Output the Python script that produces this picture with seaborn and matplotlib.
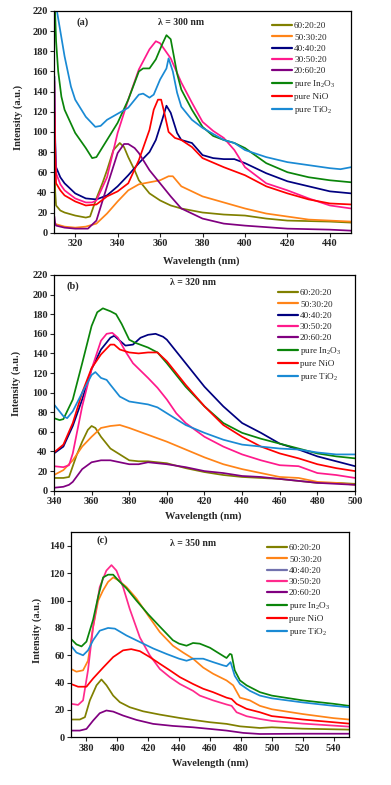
import pandas as pd
import matplotlib
matplotlib.use("Agg")
import matplotlib.pyplot as plt
from matplotlib.lines import Line2D
import seaborn as sns

LABELS = ["60:20:20", "50:30:20", "40:40:20", "30:50:20", "20:60:20",
          "pure In$\\mathregular{_2}$O$\\mathregular{_3}$", "pure NiO",
          "pure TiO$\\mathregular{_2}$"]

# ---- panel (a): excitation 300 nm ----
A_6020 = [(310.2, 78), (310.6, 40), (311, 27), (313, 22), (315, 20), (320, 17), (325, 15), (327, 16),
          (330, 34), (333, 50), (335, 62), (338, 82), (341, 89), (343, 85), (345, 75), (348, 62),
          (350, 52), (355, 39), (360, 32), (365, 27), (370, 24), (375, 22), (380, 20), (390, 18),
          (400, 17), (410, 14), (420, 12), (430, 11.5), (440, 11), (450, 10)]
A_5030 = [(310, 9), (315, 6), (320, 5), (325, 6), (330, 9), (335, 19), (340, 31), (345, 42), (350, 48),
          (355, 50), (360, 52), (364, 56), (366, 56), (368, 51), (370, 46), (375, 41), (380, 36),
          (390, 30), (400, 24), (410, 19), (420, 16), (430, 13), (440, 12), (450, 11)]
A_4040 = [(310.2, 155), (310.6, 90), (311, 65), (313, 55), (315, 49), (320, 39), (325, 34), (330, 33),
          (335, 37), (340, 46), (345, 57), (350, 69), (355, 80), (358, 92), (361, 112), (363, 126),
          (365, 119), (368, 99), (370, 92), (375, 89), (380, 77), (385, 74), (390, 73), (395, 73),
          (400, 69), (410, 59), (420, 51), (430, 46), (440, 41), (450, 39)]
A_3050 = [(310.2, 150), (310.6, 85), (311, 59), (313, 48), (315, 42), (320, 34), (325, 30), (328, 30),
          (330, 32), (335, 55), (340, 99), (345, 132), (350, 162), (355, 182), (358, 190), (360, 188),
          (365, 173), (370, 149), (375, 129), (380, 110), (385, 101), (390, 94), (395, 82), (400, 65),
          (410, 49), (420, 42), (430, 34), (440, 27), (450, 24)]
A_2060 = [(310.2, 16), (310.6, 9), (311, 7), (315, 5), (320, 4), (326, 4), (330, 12), (335, 46),
          (340, 79), (343, 88), (345, 88), (348, 84), (350, 79), (355, 62), (360, 49), (365, 36),
          (370, 24), (380, 14), (390, 9), (400, 7), (410, 5.5), (420, 4), (440, 3), (450, 2)]
A_IN2O3 = [(310.2, 240), (311, 190), (312, 160), (313.5, 135), (315, 122), (320, 99), (325, 84),
           (328, 74), (330, 75), (335, 92), (340, 109), (345, 132), (350, 160), (352, 163), (355, 163),
           (358, 172), (361, 187), (363, 196), (365, 192), (368, 158), (370, 142), (375, 122),
           (380, 105), (385, 96), (390, 92), (395, 89), (400, 84), (410, 69), (420, 60), (430, 55),
           (440, 52), (450, 50)]
A_NIO = [(310.2, 120), (310.6, 70), (311, 49), (313, 42), (315, 37), (320, 31), (325, 27), (330, 28),
         (335, 36), (340, 41), (345, 49), (350, 72), (355, 102), (357, 122), (359, 132), (360.5, 132),
         (362, 119), (364, 100), (367, 94), (370, 92), (375, 85), (380, 74), (390, 65), (400, 57),
         (410, 46), (420, 39), (430, 33), (440, 29), (450, 28)]
A_TIO2 = [(311, 240), (311.4, 220), (313, 200), (315, 175), (318, 145), (320, 132), (325, 115),
          (329.5, 105), (332, 106), (335, 112), (340, 118), (345, 124), (350, 137), (352, 138),
          (355, 134), (357, 137), (360, 152), (363, 163), (364, 173), (366, 160), (368, 139),
          (370, 125), (375, 112), (380, 104), (390, 92), (395, 89), (400, 82), (410, 75), (420, 70),
          (430, 67), (440, 64), (445, 63), (450, 65)]

# ---- panel (b): excitation 320 nm ----
B_6020 = [(340, 13), (345, 13), (348, 14), (350, 25), (352, 36), (355, 50), (358, 62), (360, 66),
          (362, 64), (365, 55), (370, 43), (375, 37), (380, 31), (385, 30), (390, 30), (400, 28),
          (410, 23), (420, 19), (430, 16), (440, 14), (450, 13), (460, 12), (470, 10), (480, 8),
          (490, 8), (500, 7)]
B_5030 = [(340, 16), (345, 21), (350, 31), (355, 45), (360, 55), (365, 64), (370, 66), (375, 67),
          (380, 64), (390, 57), (400, 50), (410, 42), (420, 34), (430, 27), (440, 22), (450, 18),
          (460, 14), (470, 13), (480, 9), (490, 8), (500, 6)]
B_4040 = [(340, 38), (345, 45), (350, 66), (355, 93), (360, 124), (365, 144), (370, 156), (372, 158),
          (375, 153), (378, 148), (382, 149), (386, 156), (390, 159), (394, 160), (398, 157),
          (400, 154), (410, 130), (420, 106), (430, 86), (440, 69), (450, 59), (460, 48), (470, 42),
          (480, 35), (490, 30), (500, 25)]
B_3050 = [(340, 25), (345, 24), (348, 26), (350, 38), (355, 86), (360, 124), (365, 153), (368, 160),
          (371, 161), (374, 156), (378, 142), (382, 130), (390, 115), (395, 105), (400, 93),
          (405, 79), (410, 69), (420, 55), (430, 45), (440, 37), (450, 31), (460, 26), (470, 25),
          (480, 18), (490, 16), (500, 13)]
B_2060 = [(340, 3), (345, 4), (348, 6), (350, 9), (355, 22), (360, 29), (365, 31), (370, 31),
          (375, 29), (380, 27), (385, 27), (390, 29), (400, 27), (410, 24), (420, 20), (430, 18),
          (440, 15), (450, 14), (460, 12), (470, 10), (480, 8), (490, 7), (500, 6)]
B_IN2O3 = [(340, 74), (343, 72), (345, 73), (350, 93), (355, 130), (360, 168), (363, 182), (366, 186),
           (370, 183), (373, 180), (376, 170), (380, 154), (383, 151), (390, 146), (395, 141),
           (400, 130), (410, 106), (420, 86), (430, 69), (440, 59), (450, 53), (460, 48), (470, 43),
           (480, 38), (490, 35), (500, 33)]
B_NIO = [(340, 39), (345, 47), (350, 69), (355, 100), (360, 125), (365, 139), (370, 149), (372, 149),
         (375, 144), (380, 141), (385, 140), (390, 141), (395, 141), (400, 132), (410, 108),
         (420, 86), (430, 67), (440, 55), (450, 45), (460, 38), (470, 33), (480, 27), (490, 23),
         (500, 20)]
B_TIO2 = [(340, 88), (345, 76), (347, 74), (350, 81), (355, 100), (360, 118), (362, 121), (365, 115),
          (368, 113), (370, 108), (375, 96), (380, 91), (390, 88), (395, 85), (400, 79), (410, 67),
          (420, 59), (430, 52), (440, 47), (450, 45), (460, 43), (470, 42), (480, 39), (490, 37),
          (500, 37)]

# ---- panel (c): excitation 350 nm (no 40:40:20 trace shown) ----
C_6020 = [(370, 13), (375.7, 13), (379, 14.7), (382.2, 27), (386.5, 38), (389.7, 42.3), (393, 38),
          (397.3, 30.5), (401.6, 25.7), (408, 22), (416.7, 19), (427.5, 16.6), (440, 14.2),
          (449, 12.7), (460, 11), (470.7, 9.8), (479.4, 8), (492.3, 6.8), (500, 7.3), (520, 6.3),
          (550, 5.6)]
C_5030 = [(370, 50), (373.5, 48), (377.8, 49), (381, 56), (384.3, 80.7), (387.6, 100), (390.8, 107.6),
          (394, 113.7), (397.3, 117), (400.5, 115), (405.9, 110), (412.4, 101.5), (420, 89),
          (427.5, 77), (436, 67), (442.6, 62), (449, 57.5), (455.6, 51), (462, 46.5), (470.7, 41.6),
          (475, 38), (479.4, 29), (485.8, 27), (492.3, 23), (500, 20.5), (520, 17), (540, 14),
          (550, 13)]
C_3050 = [(370, 24.5), (374.6, 23.7), (377.8, 27), (381, 49), (384.3, 80.7), (388.6, 110),
          (392.9, 122), (396.2, 126), (399.4, 122), (403.7, 110), (408, 94), (414.6, 73), (421, 60),
          (427.5, 50), (434, 44), (440.5, 39), (449, 34), (453.4, 30.5), (462, 27), (470.7, 24),
          (474, 23), (477.2, 18.3), (483.7, 15.4), (492.3, 13.4), (500, 12), (520, 10), (550, 7.8)]
C_2060 = [(370, 4.9), (375.7, 4.9), (380, 6.1), (384.3, 12.2), (388.6, 17.6), (392.9, 19.6),
          (397.3, 18.8), (403.7, 15.9), (412.4, 12.7), (423.2, 9.8), (436, 8.3), (449, 7.3),
          (460, 6.1), (470.7, 4.9), (481.5, 3.2), (492.3, 2.4), (520, 2.6), (550, 2.6)]
C_IN2O3 = [(370, 72), (373.5, 68), (376.8, 66.5), (380, 70), (384.3, 86), (387.6, 103), (390.8, 117),
           (394, 119), (397.3, 119), (400.5, 115), (405.9, 109), (412.4, 100), (420, 90), (427.5, 81),
           (436, 71), (440, 68.5), (444.8, 67), (449, 69), (453.4, 68.5), (460, 65.5), (466.4, 61),
           (470.7, 58), (472.9, 61), (474, 60.5), (476, 49), (479.4, 41.6), (483.7, 38), (492.3, 33),
           (500, 30.5), (520, 27), (540, 24.5), (550, 23)]
C_NIO = [(370, 39), (374.6, 37), (380, 37), (384.3, 43), (390.8, 51), (397.3, 58.7), (403.7, 63.6),
         (409, 64.5), (414.6, 63), (421, 58.7), (427.5, 53.8), (434, 49), (440.5, 44), (449, 39),
         (455.6, 35.5), (462, 33), (470.7, 29), (474, 28), (477.2, 24.4), (483.7, 20.8),
         (492.3, 18.3), (500, 15.5), (520, 13), (550, 10)]
C_TIO2 = [(370, 67), (373.5, 62), (377.8, 60), (381, 63.6), (384.3, 71), (388.6, 78), (394, 80),
          (398.4, 79.5), (405.9, 74.5), (414.6, 69.7), (423.2, 65), (431.8, 61), (440, 57.5),
          (444.8, 56), (449, 57.5), (455.6, 57.5), (462, 55), (468.6, 52.6), (470.7, 52),
          (473.3, 55), (476, 45), (479.4, 39), (485.8, 34), (492.3, 30.5), (500, 28.5), (520, 25.5),
          (540, 23), (550, 22)]

COLORS_AB = ["#808000", "#ff8418", "#000080", "#ff1a8c", "#800080", "#0a850a", "#ff0000", "#1a8ad4"]
COLORS_C = ["#808000", "#ff8418", "#7272ae", "#ff2a8c", "#800080", "#0a850a", "#ff0000", "#1a8ad4"]

SERIF = "Liberation Serif"


def frame(series):
    rows = [(lab, w, v) for lab, pts in series for w, v in pts]
    return pd.DataFrame(rows, columns=["sample", "wl", "intensity"])


def panel(fig, rect, series, colors, xlim, ylim, xticks, yticks, tag, tag_xy, exc, exc_xy,
          leg_xy, ylab_xy, xlab_xy):
    ax = fig.add_axes(rect)
    df = frame(series)
    pal = dict(zip(LABELS, colors))
    sns.lineplot(data=df, x="wl", y="intensity", hue="sample", palette=pal, estimator=None,
                 legend=False, ax=ax, linewidth=1.25)
    ax.set_xlim(*xlim)
    ax.set_ylim(*ylim)
    ax.set_xticks(xticks)
    ax.set_yticks(yticks)
    for lab in ax.get_xticklabels() + ax.get_yticklabels():
        lab.set_fontweight("bold")
    ax.tick_params(direction="out", length=3, width=0.8, labelsize=7.5, pad=1.5)
    for sp in ax.spines.values():
        sp.set_linewidth(0.9)
        sp.set_color("black")
    ax.set_xlabel("Wavelength (nm)", fontsize=7.5, fontweight="bold")
    ax.set_ylabel("Intensity (a.u.)", fontsize=7.5, fontweight="bold")
    ax.xaxis.set_label_coords(*xlab_xy)
    ax.yaxis.set_label_coords(*ylab_xy)
    ax.text(*tag_xy, tag, transform=ax.transAxes, ha="center", va="center", fontsize=7.5,
            fontweight="bold")
    ax.text(*exc_xy, exc, transform=ax.transAxes, ha="center", va="center", fontsize=7,
            fontweight="bold")
    handles = [Line2D([], [], color=c, lw=1.6) for c in colors]
    ax.legend(handles, LABELS, loc="upper left", bbox_to_anchor=leg_xy, frameon=False,
              fontsize=6.6, handlelength=2.2, handletextpad=0.2, labelspacing=0.3,
              borderpad=0, borderaxespad=0)
    return ax


sns.set_style("ticks")
plt.rcParams["font.family"] = [SERIF, "DejaVu Serif"]
plt.rcParams["mathtext.fontset"] = "custom"
plt.rcParams["mathtext.rm"] = SERIF

fig = plt.figure(figsize=(3.91, 7.85), dpi=100)

panel(fig, [0.138, 0.7036, 0.760, 0.2824],
      [(LABELS[0], A_6020), (LABELS[1], A_5030), (LABELS[2], A_4040), (LABELS[3], A_3050),
       (LABELS[4], A_2060), (LABELS[5], A_IN2O3), (LABELS[6], A_NIO), (LABELS[7], A_TIO2)],
      COLORS_AB, (310, 450), (0, 220), range(320, 441, 20), range(0, 221, 20),
      "(a)", (0.098, 0.95), "λ = 300 nm", (0.428, 0.95), (0.734, 0.95),
      (-0.104, 0.52), (0.497, -0.108))

panel(fig, [0.138, 0.3749, 0.770, 0.2748],
      [(LABELS[0], B_6020), (LABELS[1], B_5030), (LABELS[2], B_4040), (LABELS[3], B_3050),
       (LABELS[4], B_2060), (LABELS[5], B_IN2O3), (LABELS[6], B_NIO), (LABELS[7], B_TIO2)],
      COLORS_AB, (340, 500), (0, 220), range(340, 501, 20), range(0, 221, 20),
      "(b)", (0.063, 0.946), "λ = 320 nm", (0.462, 0.963), (0.744, 0.935),
      (-0.109, 0.495), (0.495, -0.097))

panel(fig, [0.1816, 0.0608, 0.711, 0.2611],
      [(LABELS[0], C_6020), (LABELS[1], C_5030), (LABELS[3], C_3050), (LABELS[4], C_2060),
       (LABELS[5], C_IN2O3), (LABELS[6], C_NIO), (LABELS[7], C_TIO2)],
      COLORS_C, (370, 550), (0, 150), range(380, 541, 20), range(0, 141, 20),
      "(c)", (0.112, 0.962), "λ = 350 nm", (0.439, 0.943), (0.705, 0.943),
      (-0.104, 0.523), (0.5, -0.102))

fig.savefig("out.png", dpi=100)
